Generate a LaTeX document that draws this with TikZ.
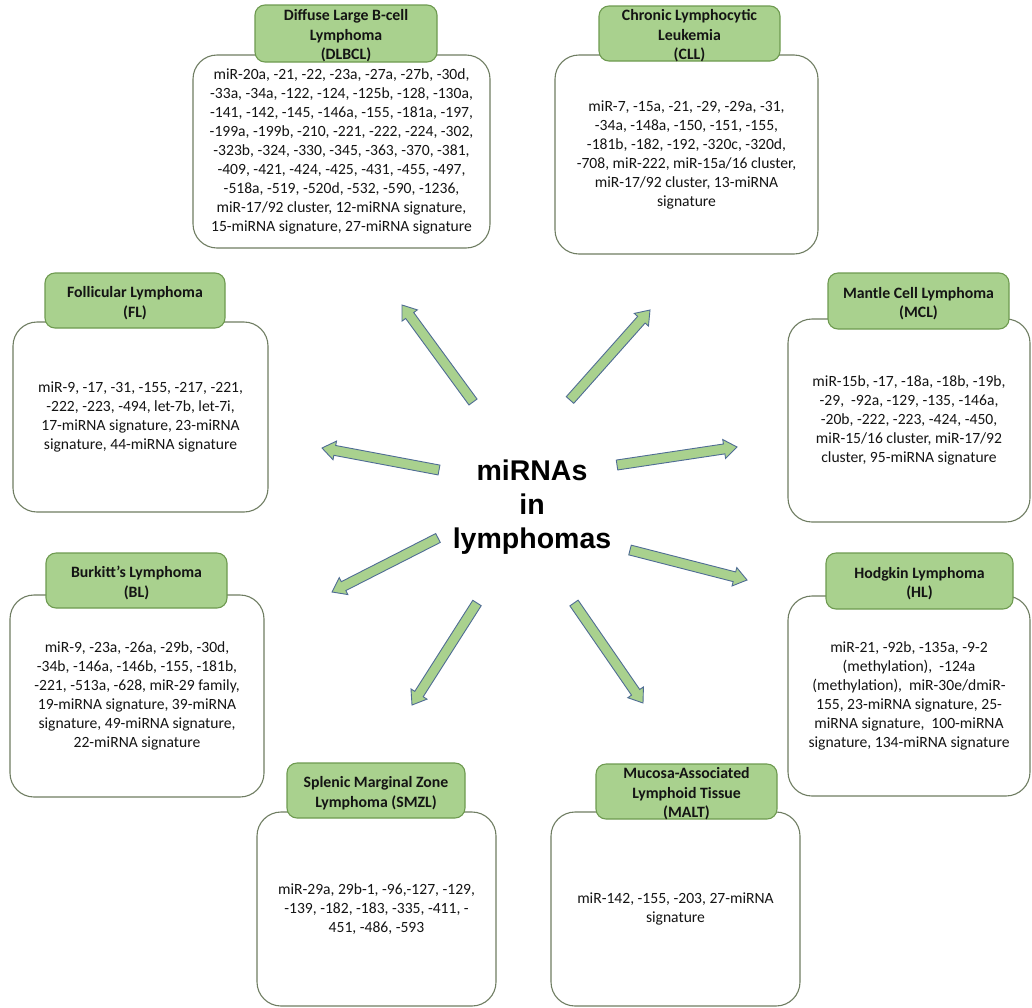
\documentclass[tikz,border=0pt]{standalone}
\usepackage{fontspec}
\setmainfont{Carlito}
\newfontfamily\arialfont{Liberation Sans}
\usetikzlibrary{calc}
\definecolor{titlegreen}{HTML}{A9D18E}
\definecolor{titleline}{HTML}{6E9A50}
\definecolor{boxline}{HTML}{6F7D62}
\definecolor{arrowline}{HTML}{4F6C94}
\definecolor{txt}{HTML}{141414}
\tikzset{
  bodybox/.style={draw=boxline, fill=white, line width=1.1pt, rounded corners=24pt,
    align=center, text=txt, font=\fontsize{15.6}{19}\selectfont, inner sep=0pt},
  titlebox/.style={draw=titleline, fill=titlegreen, line width=1.1pt, rounded corners=10pt, inner sep=0pt},
  titletext/.style={align=center, text=txt, font=\bfseries\fontsize{15.8}{19.5}\selectfont, inner sep=0pt, yshift=-2.5pt},
  fatarr/.style={draw=arrowline, fill=titlegreen, line width=0.9pt, line join=miter},
  centertext/.style={align=center, font=\arialfont\bfseries\fontsize{28.5}{34}\selectfont, text=black}
}
\newcommand\fatarrow[2]{%
  \coordinate (hb) at ($(#2)!13pt!(#1)$);
  \draw[fatarr] ($(#1)!5pt!90:(#2)$) -- ($(hb)!5pt!-90:(#1)$) -- ($(hb)!9.5pt!-90:(#1)$)
    -- (#2) -- ($(hb)!9.5pt!90:(#1)$) -- ($(hb)!5pt!90:(#1)$) -- ($(#1)!5pt!-90:(#2)$) -- cycle;
}
\begin{document}
\begin{tikzpicture}[x=1pt,y=-1pt]
\useasboundingbox[fill=white] (0,0) rectangle (1032,1007);

% DLBCL
\node[bodybox, minimum width=297pt, minimum height=193pt] (dlb) at (341.5,151.5)
 {miR-20a, -21, -22, -23a, -27a, -27b, -30d,\\ -33a, -34a, -122, -124, -125b, -128, -130a,\\
  -141, -142, -145, -146a, -155, -181a, -197,\\ -199a, -199b, -210, -221, -222, -224, -302,\\
  -323b, -324, -330, -345, -363, -370, -381,\\ -409, -421, -424, -425, -431, -455, -497,\\
  -518a, -519, -520d, -532, -590, -1236,\\ miR-17/92 cluster, 12-miRNA signature,\\
  15-miRNA signature, 27-miRNA signature};
\node[titlebox, minimum width=182pt, minimum height=57pt] (dlt) at (346,33.5) {};
\node[titletext] (dltx) at (dlt.center) {Diffuse Large B-cell\\ Lymphoma\\ (DLBCL)};

% CLL
\node[bodybox, minimum width=263pt, minimum height=199pt] (clb) at (686.5,154.5)
 {miR-7, -15a, -21, -29, -29a, -31,\\ -34a, -148a, -150, -151, -155,\\
  -181b, -182, -192, -320c, -320d,\\ -708, miR-222, miR-15a/16 cluster,\\
  miR-17/92 cluster, 13-miRNA\\ signature};
\node[titlebox, minimum width=181pt, minimum height=55pt] (clt) at (689.5,33.5) {};
\node[titletext] (cltx) at (clt.center) {Chronic Lymphocytic\\ Leukemia\\ (CLL)};

% FL
\node[bodybox, minimum width=255pt, minimum height=190pt] (flb) at (140.5,417)
 {miR-9, -17, -31, -155, -217, -221,\\ -222, -223, -494, let-7b, let-7i,\\
  17-miRNA signature, 23-miRNA\\ signature, 44-miRNA signature};
\node[titlebox, minimum width=180pt, minimum height=55pt] (flt) at (135,300.5) {};
\node[titletext] (fltx) at (flt.center) {Follicular Lymphoma\\ (FL)};

% MCL
\node[bodybox, minimum width=242pt, minimum height=203pt] (mcb) at (909,420.5)
 {miR-15b, -17, -18a, -18b, -19b,\\ -29, \ -92a, -129, -135, -146a,\\
  -20b, -222, -223, -424, -450,\\ miR-15/16 cluster, miR-17/92\\ cluster, 95-miRNA signature};
\node[titlebox, minimum width=181pt, minimum height=56pt] (mct) at (918.5,301) {};
\node[titletext] (mctx) at (mct.center) {Mantle Cell Lymphoma\\ (MCL)};

% BL
\node[bodybox, minimum width=254pt, minimum height=202pt] (blb) at (137,696)
 {miR-9, -23a, -26a, -29b, -30d,\\ -34b, -146a, -146b, -155, -181b,\\
  -221, -513a, -628, miR-29 family,\\ 19-miRNA signature, 39-miRNA\\
  signature, 49-miRNA signature,\\ 22-miRNA signature};
\node[titlebox, minimum width=181pt, minimum height=55pt] (blt) at (136.5,580.5) {};
\node[titletext] (bltx) at (blt.center) {Burkitt’s Lymphoma\\ (BL)};

% HL
\node[bodybox, minimum width=242pt, minimum height=200pt] (hlb) at (909,696)
 {miR-21, -92b, -135a, -9-2\\ (methylation), \ -124a\\ (methylation), \ miR-30e/dmiR-\\
  155, 23-miRNA signature, 25-\\ miRNA signature, \ 100-miRNA\\ signature, 134-miRNA signature};
\node[titlebox, minimum width=187pt, minimum height=56pt] (hlt) at (919.5,581) {};
\node[titletext] (hltx) at (hlt.center) {Hodgkin Lymphoma\\ (HL)};

% SMZL
\node[bodybox, minimum width=239pt, minimum height=194pt] (smb) at (376.5,909)
 {miR-29a, 29b-1, -96,-127, -129,\\ -139, -182, -183, -335, -411, -\\ 451, -486, -593};
\node[titlebox, minimum width=178pt, minimum height=55pt] (smt) at (376,790.5) {};
\node[titletext] (smtx) at (smt.center) {Splenic Marginal Zone\\ Lymphoma (SMZL)};

% MALT
\node[bodybox, minimum width=249pt, minimum height=194pt] (mab) at (675.5,909)
 {miR-142, -155, -203, 27-miRNA\\ signature};
\node[titlebox, minimum width=181pt, minimum height=55pt] (mat) at (686.5,791.5) {};
\node[titletext] (matx) at (mat.center) {Mucosa-Associated\\ Lymphoid Tissue\\ (MALT)};

% centre
\node[centertext] (ctr) at (532,507) {miRNAs\\ in\\ lymphomas};

% arrows
\coordinate (a1t) at (473,402); \coordinate (a1h) at (402,305);
\coordinate (a2t) at (570,400); \coordinate (a2h) at (650,310);
\coordinate (a3t) at (439,470); \coordinate (a3h) at (322,448);
\coordinate (a4t) at (617,465); \coordinate (a4h) at (737,447);
\coordinate (a5t) at (438,538); \coordinate (a5h) at (332,592);
\coordinate (a6t) at (630,550); \coordinate (a6h) at (747,580);
\coordinate (a7t) at (477,603); \coordinate (a7h) at (412,705);
\coordinate (a8t) at (574,603); \coordinate (a8h) at (643,703);
\fatarrow{a1t}{a1h}
\fatarrow{a2t}{a2h}
\fatarrow{a3t}{a3h}
\fatarrow{a4t}{a4h}
\fatarrow{a5t}{a5h}
\fatarrow{a6t}{a6h}
\fatarrow{a7t}{a7h}
\fatarrow{a8t}{a8h}
\end{tikzpicture}
\end{document}
